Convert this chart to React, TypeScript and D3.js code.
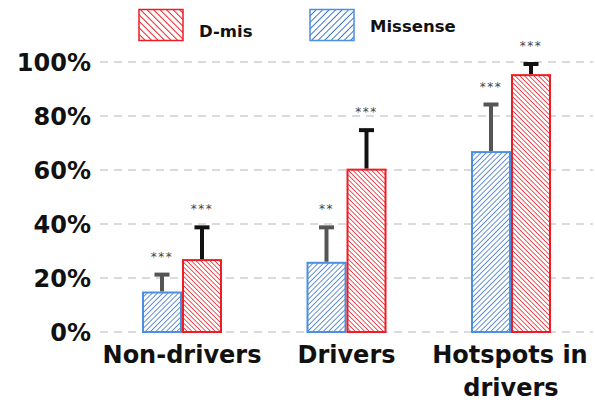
import { useRef, useEffect } from "react";
import * as d3 from "d3";

const W = 595;
const H = 403;

const categories = ["Non-drivers", "Drivers", "Hotspots in drivers"];
const series = ["Missense", "D-mis"];
const missense = [15, 26, 67];
const missenseErr = [22, 39.5, 85];
const dmis = [27, 60.5, 95.5];
const dmisErr = [39.5, 75.5, 100];
const missenseStars = ["***", "**", "***"];
const dmisStars = ["***", "***", "***"];
const yTicks = [0, 20, 40, 60, 80, 100];

const FONT = "'DejaVu Sans', Verdana, sans-serif";
const RED = "#ee1c24";
const BLUE = "#2f6cc9";
const BLUE_EDGE = "#4a8fe0";

export default function App() {
  const svgRef = useRef<SVGSVGElement>(null);

  useEffect(() => {
    const svg = d3.select(svgRef.current);
    if (!svg.node()) return;
    svg.selectAll("*").remove();

    const defs = svg.append("defs");
    const pat = (id: string, color: string, dir: number, gap: number, sw: number) => {
      const p = defs
        .append("pattern")
        .attr("id", id)
        .attr("patternUnits", "userSpaceOnUse")
        .attr("width", gap)
        .attr("height", gap)
        .attr("patternTransform", `rotate(${dir})`);
      p.append("rect").attr("width", gap).attr("height", gap).attr("fill", "#fff");
      p.append("line")
        .attr("x1", 0)
        .attr("y1", 0)
        .attr("x2", 0)
        .attr("y2", gap)
        .attr("stroke", color)
        .attr("stroke-width", sw);
    };
    pat("hatchRed", RED, -45, 3.3, 1.5);
    pat("hatchBlue", BLUE, 45, 3.7, 1.5);
    pat("legRed", RED, -45, 4.6, 2);
    pat("legBlue", BLUE, 45, 4.6, 1.8);

    const y = d3.scaleLinear().domain([0, 100]).range([332, 62]);
    const x = d3.scalePoint<string>().domain(categories).range([182, 511]);
    const inner = d3.scaleBand<string>().domain(series).range([-40, 40]);

    // gridlines
    svg
      .append("g")
      .selectAll("line")
      .data(yTicks)
      .enter()
      .append("line")
      .attr("x1", 100)
      .attr("x2", 593)
      .attr("y1", (d) => y(d))
      .attr("y2", (d) => y(d))
      .attr("stroke", "#d0d0d0")
      .attr("stroke-width", 1.6)
      .attr("stroke-dasharray", "8,6");

    // y labels
    svg
      .append("g")
      .selectAll("text")
      .data(yTicks)
      .enter()
      .append("text")
      .attr("x", 91)
      .attr("y", (d) => y(d) + 8.7)
      .attr("text-anchor", "end")
      .style("font-family", FONT)
      .style("font-weight", "bold")
      .style("font-size", "24px")
      .style("fill", "#111")
      .text((d) => `${d}%`);

    const groups = [
      { key: "Missense", vals: missense, errs: missenseErr, stars: missenseStars, fill: "url(#hatchBlue)", stroke: BLUE_EDGE, err: "#555" },
      { key: "D-mis", vals: dmis, errs: dmisErr, stars: dmisStars, fill: "url(#hatchRed)", stroke: RED, err: "#111" },
    ];

    groups.forEach((g) => {
      const bw = inner.bandwidth();
      const gg = svg.append("g");
      const rows = categories.map((c, i) => ({
        c,
        v: g.vals[i],
        e: g.errs[i],
        s: g.stars[i],
        cx: x(c)! + inner(g.key)! + bw / 2,
        x0: x(c)! + inner(g.key)!,
      }));
      // error bars
      gg.selectAll(".err")
        .data(rows)
        .enter()
        .append("line")
        .attr("x1", (d) => d.cx)
        .attr("x2", (d) => d.cx)
        .attr("y1", (d) => y(d.v))
        .attr("y2", (d) => y(d.e) + 1)
        .attr("stroke", g.err)
        .attr("stroke-width", 4);
      gg.selectAll(".cap")
        .data(rows)
        .enter()
        .append("line")
        .attr("x1", (d) => d.cx - 7.5)
        .attr("x2", (d) => d.cx + 7.5)
        .attr("y1", (d) => y(d.e) + 2)
        .attr("y2", (d) => y(d.e) + 2)
        .attr("stroke", g.err)
        .attr("stroke-width", 4);
      gg.selectAll(".bar")
        .data(rows)
        .enter()
        .append("rect")
        .attr("x", (d) => d.x0 + 1)
        .attr("width", bw - 2)
        .attr("y", (d) => y(d.v) + 1)
        .attr("height", (d) => y(0) - y(d.v) - 1)
        .attr("fill", g.fill)
        .attr("stroke", g.stroke)
        .attr("stroke-width", 2);
      gg.selectAll(".star")
        .data(rows)
        .enter()
        .append("text")
        .attr("x", (d) => d.cx)
        .attr("y", (d) => y(d.e) - 12)
        .attr("text-anchor", "middle")
        .style("font-family", FONT)
        .style("font-size", "12px")
        .style("fill", "#444")
        .style("letter-spacing", "1.5px")
        .text((d) => d.s);
    });

    // x labels
    const xl = svg.append("g");
    const labelStyle = (t: d3.Selection<SVGTextElement, unknown, null, undefined>) =>
      t
        .attr("text-anchor", "middle")
        .style("font-family", FONT)
        .style("font-weight", "bold")
        .style("font-size", "24px")
        .style("fill", "#111");
    labelStyle(xl.append("text").attr("x", x(categories[0])!).attr("y", 363)).text(categories[0]);
    labelStyle(xl.append("text").attr("x", x(categories[1])!).attr("y", 363)).text(categories[1]);
    const t3 = labelStyle(xl.append("text"));
    t3.append("tspan").attr("x", x(categories[2])! - 1).attr("y", 363).text("Hotspots in");
    t3.append("tspan").attr("x", x(categories[2])!).attr("y", 396).text("drivers");

    // legend
    const leg = svg.append("g");
    const items = [
      { label: "D-mis", fill: "url(#legRed)", stroke: RED, x: 139, ty: 37 },
      { label: "Missense", fill: "url(#legBlue)", stroke: BLUE_EDGE, x: 310, ty: 32 },
    ];
    items.forEach((it) => {
      leg.append("rect")
        .attr("x", it.x)
        .attr("y", 9.5)
        .attr("width", 44)
        .attr("height", 31)
        .attr("fill", it.fill)
        .attr("stroke", it.stroke)
        .attr("stroke-width", 1.5);
      leg.append("text")
        .attr("x", it.x + 60)
        .attr("y", it.ty)
        .style("font-family", FONT)
        .style("font-weight", "bold")
        .style("font-size", "16.5px")
        .style("fill", "#111")
        .text(it.label);
    });
  }, []);

  return (
    <svg
      ref={svgRef}
      width={W}
      height={H}
      style={{ position: "absolute", left: 0, top: 0, background: "#fff" }}
    />
  );
}
